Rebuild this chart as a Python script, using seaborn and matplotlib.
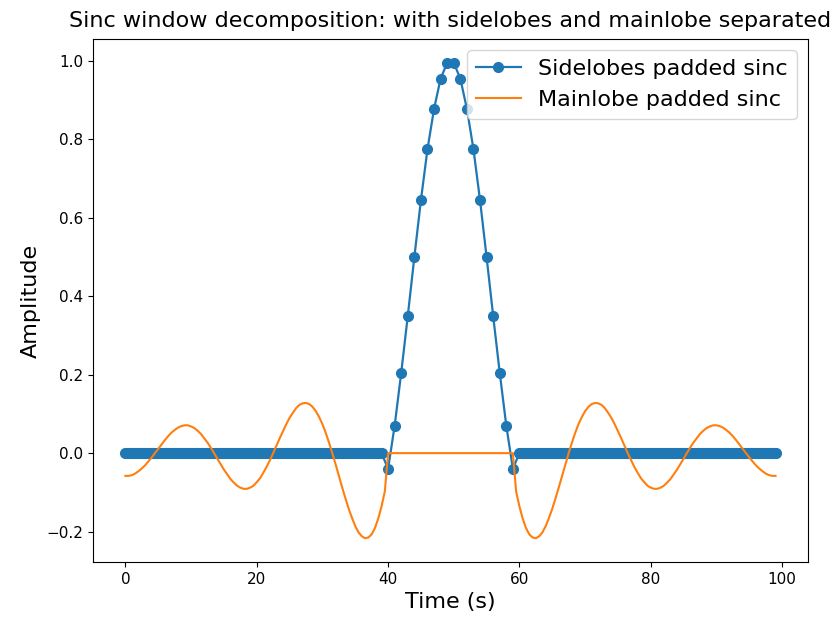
import numpy as np
import pandas as pd
import matplotlib
matplotlib.use("Agg")
import matplotlib.pyplot as plt
import seaborn as sns

# ---- Blue series: zero padding (densely sampled) + mainlobe (samples 40..59)
pad_left_time = np.linspace(0, 39, 196)
pad_right_time = np.linspace(60, 99, 196)
mainlobe_time = list(range(40, 60))
mainlobe_vals = [-0.04, 0.07, 0.205, 0.35, 0.50, 0.645, 0.775, 0.878, 0.955, 0.995,
                 0.995, 0.955, 0.878, 0.775, 0.645, 0.50, 0.35, 0.205, 0.07, -0.04]

# ---- Orange series: sidelobes sampled every 0.5 s, zero under the mainlobe
orange_time = np.arange(0, 99.5, 0.5)
side_left = [-0.058, -0.058, -0.056, -0.052, -0.046, -0.039, -0.031, -0.021, -0.011, 0.0,
             0.011, 0.022, 0.033, 0.043, 0.052, 0.059, 0.065, 0.069, 0.071, 0.071,
             0.068, 0.064, 0.057, 0.049, 0.038, 0.027, 0.014, 0.0, -0.014, -0.028,
             -0.042, -0.054, -0.066, -0.075, -0.083, -0.088, -0.091, -0.091, -0.088, -0.083,
             -0.074, -0.064, -0.050, -0.035, -0.018, 0.0, 0.019, 0.038, 0.056, 0.074,
             0.090, 0.103, 0.115, 0.123, 0.127, 0.128, 0.125, 0.118, 0.107, 0.092,
             0.074, 0.052, 0.027, 0.0, -0.028, -0.058, -0.087, -0.115, -0.142, -0.165,
             -0.186, -0.202, -0.212, -0.217, -0.215, -0.207, -0.191, -0.167, -0.136, -0.098]
side_right = [-0.098, -0.136, -0.167, -0.191, -0.207, -0.215, -0.217, -0.212, -0.202, -0.186,
              -0.165, -0.142, -0.115, -0.087, -0.058, -0.028, 0.0, 0.027, 0.052, 0.074,
              0.092, 0.107, 0.118, 0.125, 0.128, 0.127, 0.123, 0.115, 0.103, 0.090,
              0.074, 0.056, 0.038, 0.019, 0.0, -0.018, -0.035, -0.050, -0.064, -0.074,
              -0.083, -0.088, -0.091, -0.091, -0.088, -0.083, -0.075, -0.066, -0.054, -0.042,
              -0.028, -0.014, 0.0, 0.014, 0.027, 0.038, 0.049, 0.057, 0.064, 0.068,
              0.071, 0.071, 0.069, 0.065, 0.059, 0.052, 0.043, 0.033, 0.022, 0.011,
              0.0, -0.011, -0.021, -0.031, -0.039, -0.046, -0.052, -0.056, -0.058, -0.058]
side_mid = [0.0] * 39

blue_time = list(pad_left_time) + mainlobe_time + list(pad_right_time)
blue_vals = [0.0] * len(pad_left_time) + mainlobe_vals + [0.0] * len(pad_right_time)
orange_vals = side_left + side_mid + side_right

df_blue = pd.DataFrame({"time": blue_time, "amp": blue_vals})
df_orange = pd.DataFrame({"time": orange_time, "amp": orange_vals})

fig = plt.figure(figsize=(8.37, 6.21), dpi=100)
ax = fig.add_axes([0.111, 0.095, 0.9654 - 0.111, 0.937 - 0.095])

sns.lineplot(data=df_blue, x="time", y="amp", ax=ax, color="#1f77b4", marker="o",
             markersize=7, markeredgecolor="#1f77b4", markeredgewidth=1,
             linewidth=1.6, label="Sidelobes padded sinc", estimator=None)
sns.lineplot(data=df_orange, x="time", y="amp", ax=ax, color="#ff7f0e",
             linewidth=1.5, label="Mainlobe padded sinc", estimator=None)

ax.set_title("Sinc window decomposition: with sidelobes and mainlobe separated",
             fontsize=16, pad=9)
ax.set_xlabel("Time (s)", fontsize=16)
ax.set_ylabel("Amplitude", fontsize=16)
ax.set_xticks([0, 20, 40, 60, 80, 100])
ax.set_yticks([-0.2, 0.0, 0.2, 0.4, 0.6, 0.8, 1.0])
ax.set_xlim(-4.95, 103.95)
ax.tick_params(labelsize=11)
ax.legend(loc="upper right", fontsize=16)

fig.savefig("out.png", dpi=100)
